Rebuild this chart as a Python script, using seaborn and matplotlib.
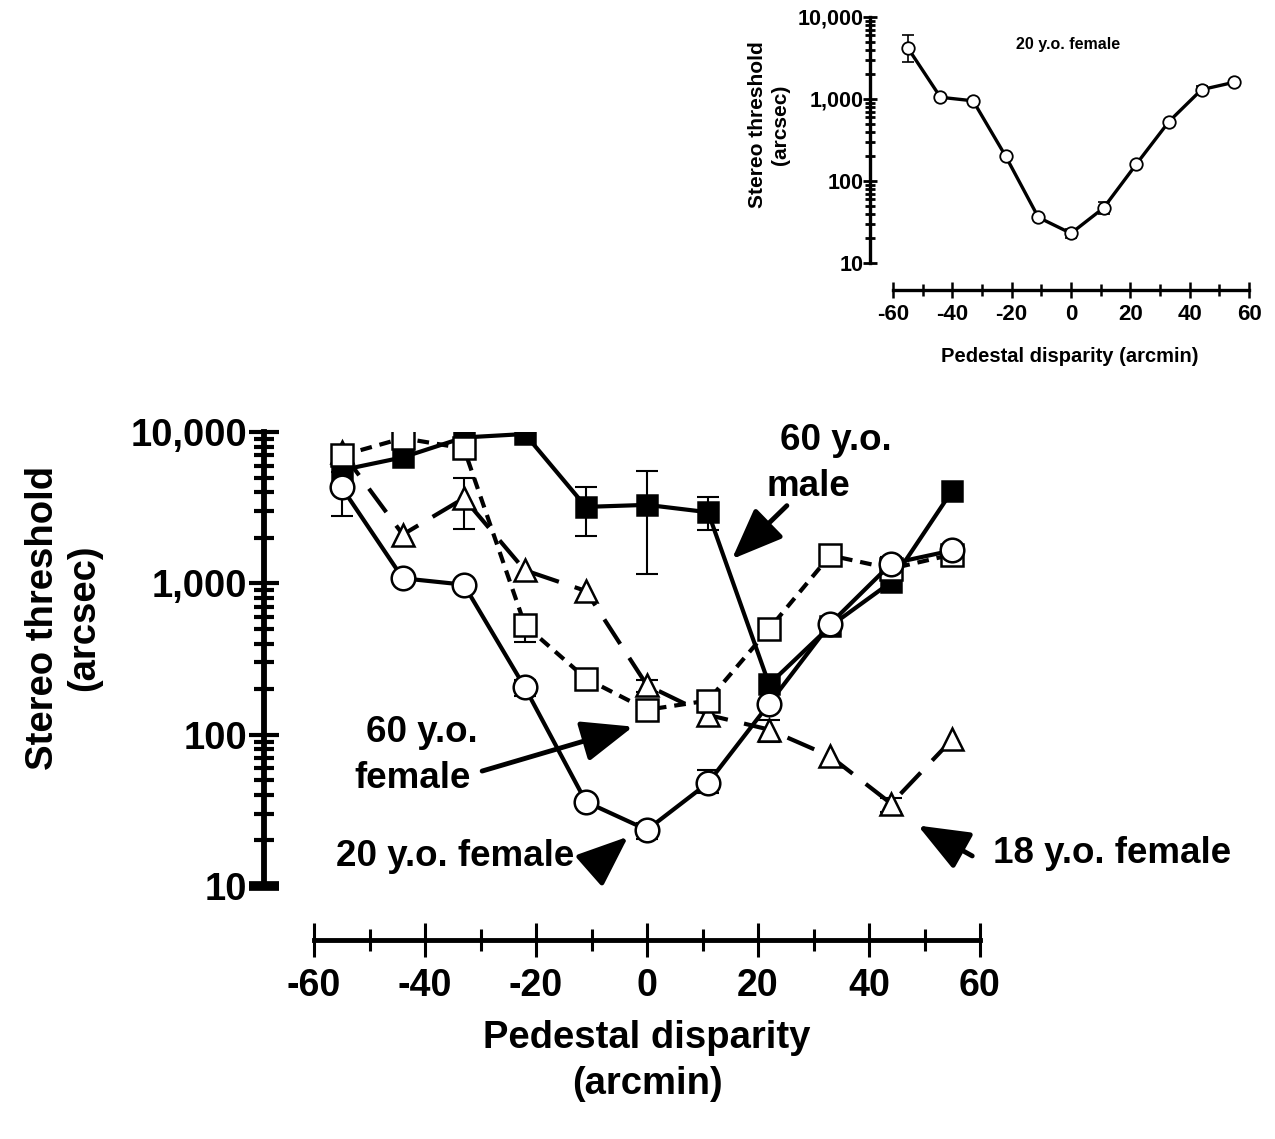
import numpy as np
import pandas as pd
import seaborn as sns
import matplotlib
matplotlib.use("Agg")
import matplotlib.pyplot as plt
from matplotlib.ticker import FixedLocator, FixedFormatter, NullFormatter

# ---------------- data ----------------
disparity = [-55, -44, -33, -22, -11, 0, 11, 22, 33, 44, 55]

female20 = [4300, 1080, 980, 205, 36, 23.5, 48, 160, 540, 1350, 1650]
female20_lo = [2800, np.nan, np.nan, 180, np.nan, 20.5, 41, np.nan, np.nan, 1200, np.nan]
female20_hi = [5400, np.nan, np.nan, 230, np.nan, 26, 58, np.nan, np.nan, 1500, np.nan]

male60 = [5600, 6800, 9200, 9700, 3200, 3300, 2950, 215, 520, 1020, 4100]
male60_lo = [np.nan, np.nan, np.nan, np.nan, 2050, 1150, 2250, np.nan, np.nan, np.nan, np.nan]
male60_hi = [np.nan, np.nan, np.nan, np.nan, 4300, 5500, 3700, np.nan, np.nan, np.nan, np.nan]

female60 = [7000, 9100, 7800, 530, 235, 146, 168, 500, 1530, 1250, 1550]
female60_lo = [np.nan, np.nan, np.nan, 410, np.nan, np.nan, np.nan, np.nan, np.nan, np.nan, 1400]
female60_hi = [np.nan, np.nan, np.nan, 560, np.nan, np.nan, np.nan, np.nan, np.nan, np.nan, 1650]

female18 = [7400, 2100, 3650, 1220, 890, 212, 135, 108, 72, 35, 93]
female18_lo = [np.nan, np.nan, 2300, np.nan, np.nan, 190, np.nan, 90, np.nan, 31, np.nan]
female18_hi = [np.nan, np.nan, 4950, np.nan, np.nan, 230, np.nan, 125, np.nan, 38, np.nan]

# inset (20 y.o. female)
inset_vals = [4200, 1050, 950, 200, 36, 23, 47, 160, 530, 1300, 1600]
inset_lo = [2830, np.nan, np.nan, np.nan, np.nan, 20, 40, np.nan, np.nan, 1200, np.nan]
inset_hi = [6030, np.nan, np.nan, np.nan, np.nan, 26, 56, np.nan, np.nan, 1450, np.nan]

y_ticks = [10, 100, 1000, 10000]
y_ticklabels = ["10", "100", "1,000", "10,000"]
x_ticks = [-60, -40, -20, 0, 20, 40, 60]
x_ticklabels = ["-60", "-40", "-20", "0", "20", "40", "60"]
x_minor = [-50, -30, -10, 10, 30, 50]

# ---------------- style ----------------
sns.set_theme(style="white")
plt.rcParams["font.family"] = ["Liberation Sans", "DejaVu Sans"]
plt.rcParams["font.weight"] = "bold"
plt.rcParams["axes.labelweight"] = "bold"
plt.rcParams["axes.unicode_minus"] = False
for k in ["text.color", "axes.labelcolor", "xtick.color", "ytick.color",
          "axes.edgecolor"]:
    plt.rcParams[k] = "black"

fig = plt.figure(figsize=(12.75, 11.39), dpi=100)
W, H = 1275, 1139

# ---------------- main axes ----------------
ax = fig.add_axes([314 / W, 1 - 886 / H, 666 / W, 454 / H])


def draw_series(a, y, lo, hi, marker, mfc, ls, ms, lw, mew, z, cap):
    df = pd.DataFrame({"x": disparity, "y": y})
    sns.lineplot(data=df, x="x", y="y", ax=a, color="black", marker=marker,
                 markersize=ms, markerfacecolor=mfc, markeredgecolor="black",
                 markeredgewidth=mew, linewidth=lw, linestyle=ls,
                 errorbar=None, zorder=z, sort=False)
    yv = np.array(y, dtype=float)
    lo = np.array(lo, dtype=float)
    hi = np.array(hi, dtype=float)
    m = ~np.isnan(lo)
    err = np.vstack([yv[m] - lo[m], hi[m] - yv[m]])
    a.errorbar(np.array(disparity)[m], yv[m], yerr=err, fmt="none",
               ecolor="black", elinewidth=1.5, capsize=cap, capthick=1.5,
               zorder=z - 0.5)


draw_series(ax, female18, female18_lo, female18_hi, "^", "white",
            (0, (7.0, 4.0)), 16, 3.0, 1.8, 2, 8)
draw_series(ax, male60, male60_lo, male60_hi, "s", "black",
            "-", 15, 3.0, 1.8, 3, 8)
draw_series(ax, female60, female60_lo, female60_hi, "s", "white",
            (0, (2.8, 1.9)), 16, 3.0, 1.8, 4, 8)
draw_series(ax, female20, female20_lo, female20_hi, "o", "white",
            "-", 17, 3.0, 1.8, 5, 8)

minor_y = [m * 10 ** e for e in range(1, 4) for m in range(2, 10)]


def style_axes(a, lw_spine_l, lw_spine_b, off_l, off_b):
    a.set_yscale("log")
    a.set_ylim(10, 10000)
    a.set_xlim(-60, 60)
    a.yaxis.set_major_locator(FixedLocator(y_ticks))
    a.yaxis.set_major_formatter(FixedFormatter(y_ticklabels))
    a.yaxis.set_minor_locator(FixedLocator(minor_y))
    a.yaxis.set_minor_formatter(NullFormatter())
    a.xaxis.set_major_locator(FixedLocator(x_ticks))
    a.xaxis.set_major_formatter(FixedFormatter(x_ticklabels))
    a.xaxis.set_minor_locator(FixedLocator(x_minor))
    for s in ["top", "right"]:
        a.spines[s].set_visible(False)
    a.spines["left"].set_position(("outward", off_l))
    a.spines["bottom"].set_position(("outward", off_b))
    a.spines["left"].set_linewidth(lw_spine_l)
    a.spines["bottom"].set_linewidth(lw_spine_b)
    a.spines["left"].set_bounds(10, 10000)
    a.spines["bottom"].set_bounds(-60, 60)
    a.tick_params(left=True, bottom=True, top=False, right=False, which="both")


style_axes(ax, 4.2, 3.5, 36, 39)
ax.tick_params(axis="y", which="major", direction="inout", length=22, width=3.0,
               labelsize=27.5, pad=1, color="black")
ax.tick_params(axis="y", which="minor", direction="inout", length=15, width=3.0,
               color="black")
ax.tick_params(axis="x", which="major", direction="inout", length=24, width=2.2,
               labelsize=27, pad=8, color="black")
ax.tick_params(axis="x", which="minor", direction="inout", length=16, width=2.2,
               color="black")
for lab in ax.get_xticklabels() + ax.get_yticklabels():
    lab.set_fontweight("bold")
# thick end cap at the bottom of the y axis
ax.yaxis.get_major_ticks()[0].tick1line.set_markeredgewidth(7)

ax.set_xlabel("Pedestal disparity\n(arcmin)", fontsize=27.5, fontweight="bold",
              linespacing=1.35)
ax.xaxis.set_label_coords(0.5, -0.295)
ax.set_ylabel("Stereo threshold\n(arcsec)", fontsize=27.5, fontweight="bold",
              linespacing=1.2)
ax.yaxis.set_label_coords(-0.318, 0.59)

# annotations
tk = dict(fontsize=26.5, fontweight="bold", ha="center", va="center", zorder=10)
ax.text(34.1, 8850, "60 y.o.", **tk)
ax.text(29.0, 4365, "male", **tk)
ax.text(-40.5, 103, "60 y.o.", **tk)
ax.text(-42.3, 51.7, "female", **tk)
ax.text(-34.6, 15.6, "20 y.o. female", **tk)
ax.text(83.8, 16.3, "18 y.o. female", clip_on=False, **tk)

ap = dict(arrowstyle="-|>,head_length=1.5,head_width=0.6", color="black",
          lw=3.5, mutation_scale=21, shrinkA=0, shrinkB=0)
ax.annotate("", xy=(15.3, 1445), xytext=(25.2, 3260), arrowprops=ap, zorder=10)
ax.annotate("", xy=(-2.5, 113), xytext=(-29.7, 57.5), arrowprops=ap, zorder=10)
ax.annotate("", xy=(-3.4, 21.2), xytext=(-8.8, 14.2), arrowprops=ap, zorder=10)
ax.annotate("", xy=(48.8, 25.1), xytext=(58.6, 15.8), arrowprops=ap, zorder=10,
            annotation_clip=False)

# ---------------- inset ----------------
ai = fig.add_axes([893 / W, 1 - 263 / H, 356 / W, 246 / H])
df_in = pd.DataFrame({"x": disparity, "y": inset_vals})
sns.lineplot(data=df_in, x="x", y="y", ax=ai, color="black", marker="o",
             markersize=9, markerfacecolor="white", markeredgecolor="black",
             markeredgewidth=1.3, linewidth=2.4, errorbar=None, zorder=3,
             sort=False)
yv = np.array(inset_vals, dtype=float)
lo = np.array(inset_lo, dtype=float)
hi = np.array(inset_hi, dtype=float)
m = ~np.isnan(lo)
ai.errorbar(np.array(disparity)[m], yv[m],
            yerr=np.vstack([yv[m] - lo[m], hi[m] - yv[m]]), fmt="none",
            ecolor="black", elinewidth=1.2, capsize=4, capthick=1.2, zorder=2)

style_axes(ai, 2.4, 2.4, 16.5, 19.5)
ai.tick_params(axis="y", which="major", direction="inout", length=10, width=2.0,
               labelsize=15.5, pad=0, color="black")
ai.tick_params(axis="y", which="minor", direction="inout", length=7, width=2.0,
               color="black")
ai.tick_params(axis="x", which="major", direction="inout", length=12, width=1.8,
               labelsize=16, pad=4, color="black")
ai.tick_params(axis="x", which="minor", direction="inout", length=8, width=1.8,
               color="black")
for lab in ai.get_xticklabels() + ai.get_yticklabels():
    lab.set_fontweight("bold")
ai.set_xlabel("Pedestal disparity (arcmin)", fontsize=14.5, fontweight="bold")
ai.xaxis.set_label_coords(0.497, -0.34)
ai.set_ylabel("Stereo threshold\n(arcsec)", fontsize=15, fontweight="bold",
              linespacing=1.25)
ai.yaxis.set_label_coords(-0.29, 0.561)
ai.text(-1.0, 4560, "20 y.o. female", fontsize=11.5, fontweight="bold",
        ha="center", va="center")

fig.savefig("out.png", dpi=100)
